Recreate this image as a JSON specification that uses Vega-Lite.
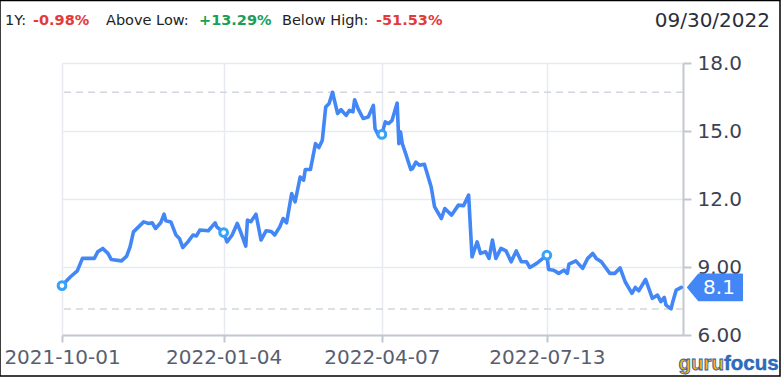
{
  "$schema": "https://vega.github.io/schema/vega-lite/v6.json",
  "autosize": "none",
  "width": 621,
  "height": 272,
  "padding": {"left": 62, "top": 63, "right": 99, "bottom": 49},
  "background": "#ffffff",
  "config": {"view": {"stroke": null}, "font": "DejaVu Sans"},
  "datasets": {
    "prices": [
      {"date": "2021-10-01", "price": 8.18}, {"date": "2021-10-06", "price": 8.57}, {"date": "2021-10-10", "price": 8.83},
      {"date": "2021-10-13", "price": 9.38}, {"date": "2021-10-20", "price": 9.38}, {"date": "2021-10-22", "price": 9.67},
      {"date": "2021-10-25", "price": 9.82}, {"date": "2021-10-28", "price": 9.60}, {"date": "2021-10-30", "price": 9.33},
      {"date": "2021-11-05", "price": 9.27}, {"date": "2021-11-08", "price": 9.48}, {"date": "2021-11-10", "price": 9.89},
      {"date": "2021-11-12", "price": 10.55}, {"date": "2021-11-18", "price": 10.99}, {"date": "2021-11-21", "price": 10.92},
      {"date": "2021-11-23", "price": 10.95}, {"date": "2021-11-25", "price": 10.70}, {"date": "2021-11-28", "price": 10.95},
      {"date": "2021-11-30", "price": 11.33}, {"date": "2021-12-01", "price": 11.04}, {"date": "2021-12-04", "price": 10.99},
      {"date": "2021-12-07", "price": 10.41}, {"date": "2021-12-09", "price": 10.26}, {"date": "2021-12-11", "price": 9.86},
      {"date": "2021-12-14", "price": 10.11}, {"date": "2021-12-17", "price": 10.41}, {"date": "2021-12-19", "price": 10.37},
      {"date": "2021-12-21", "price": 10.63}, {"date": "2021-12-26", "price": 10.60}, {"date": "2021-12-30", "price": 10.95},
      {"date": "2021-12-31", "price": 10.77}, {"date": "2022-01-04", "price": 10.52}, {"date": "2022-01-06", "price": 10.11},
      {"date": "2022-01-09", "price": 10.41}, {"date": "2022-01-12", "price": 10.92}, {"date": "2022-01-14", "price": 10.55},
      {"date": "2022-01-17", "price": 9.92}, {"date": "2022-01-18", "price": 11.07}, {"date": "2022-01-20", "price": 11.00},
      {"date": "2022-01-23", "price": 11.33}, {"date": "2022-01-26", "price": 10.19}, {"date": "2022-01-29", "price": 10.60},
      {"date": "2022-02-01", "price": 10.57}, {"date": "2022-02-03", "price": 10.41}, {"date": "2022-02-06", "price": 10.77},
      {"date": "2022-02-08", "price": 11.14}, {"date": "2022-02-10", "price": 10.95}, {"date": "2022-02-13", "price": 12.24},
      {"date": "2022-02-15", "price": 11.87}, {"date": "2022-02-18", "price": 12.97}, {"date": "2022-02-20", "price": 12.83},
      {"date": "2022-02-21", "price": 13.30}, {"date": "2022-02-24", "price": 13.30}, {"date": "2022-02-27", "price": 14.44},
      {"date": "2022-03-01", "price": 14.27}, {"date": "2022-03-03", "price": 14.59}, {"date": "2022-03-05", "price": 16.06},
      {"date": "2022-03-07", "price": 16.21}, {"date": "2022-03-09", "price": 16.71}, {"date": "2022-03-12", "price": 15.77},
      {"date": "2022-03-14", "price": 15.94}, {"date": "2022-03-17", "price": 15.69}, {"date": "2022-03-19", "price": 15.91},
      {"date": "2022-03-21", "price": 15.85}, {"date": "2022-03-22", "price": 16.38}, {"date": "2022-03-24", "price": 15.99},
      {"date": "2022-03-27", "price": 15.55}, {"date": "2022-03-30", "price": 15.62}, {"date": "2022-04-02", "price": 16.13},
      {"date": "2022-04-03", "price": 15.10}, {"date": "2022-04-05", "price": 14.81}, {"date": "2022-04-07", "price": 14.85},
      {"date": "2022-04-09", "price": 15.40}, {"date": "2022-04-11", "price": 15.33}, {"date": "2022-04-13", "price": 15.47},
      {"date": "2022-04-16", "price": 16.23}, {"date": "2022-04-17", "price": 14.44}, {"date": "2022-04-18", "price": 14.96},
      {"date": "2022-04-19", "price": 14.44}, {"date": "2022-04-21", "price": 14.00}, {"date": "2022-04-24", "price": 13.30},
      {"date": "2022-04-25", "price": 13.34}, {"date": "2022-04-27", "price": 13.63}, {"date": "2022-04-29", "price": 13.49},
      {"date": "2022-05-02", "price": 13.53}, {"date": "2022-05-06", "price": 12.53}, {"date": "2022-05-08", "price": 11.65},
      {"date": "2022-05-12", "price": 11.14}, {"date": "2022-05-14", "price": 11.58}, {"date": "2022-05-18", "price": 11.29},
      {"date": "2022-05-22", "price": 11.73}, {"date": "2022-05-25", "price": 11.70}, {"date": "2022-05-28", "price": 12.17},
      {"date": "2022-05-30", "price": 9.45}, {"date": "2022-06-02", "price": 10.11}, {"date": "2022-06-04", "price": 9.60},
      {"date": "2022-06-07", "price": 9.67}, {"date": "2022-06-09", "price": 9.38}, {"date": "2022-06-11", "price": 10.19},
      {"date": "2022-06-13", "price": 9.38}, {"date": "2022-06-16", "price": 9.82}, {"date": "2022-06-19", "price": 9.71},
      {"date": "2022-06-22", "price": 9.23}, {"date": "2022-06-25", "price": 9.71}, {"date": "2022-06-28", "price": 9.23},
      {"date": "2022-07-01", "price": 9.23}, {"date": "2022-07-03", "price": 8.98}, {"date": "2022-07-07", "price": 9.16},
      {"date": "2022-07-13", "price": 9.52}, {"date": "2022-07-14", "price": 8.89}, {"date": "2022-07-17", "price": 8.86},
      {"date": "2022-07-20", "price": 8.72}, {"date": "2022-07-23", "price": 8.86}, {"date": "2022-07-25", "price": 8.72},
      {"date": "2022-07-26", "price": 9.13}, {"date": "2022-07-30", "price": 9.27}, {"date": "2022-08-03", "price": 8.94},
      {"date": "2022-08-06", "price": 9.38}, {"date": "2022-08-09", "price": 9.60}, {"date": "2022-08-11", "price": 9.38},
      {"date": "2022-08-14", "price": 9.23}, {"date": "2022-08-19", "price": 8.72}, {"date": "2022-08-22", "price": 8.72},
      {"date": "2022-08-25", "price": 8.96}, {"date": "2022-08-28", "price": 8.35}, {"date": "2022-09-01", "price": 7.84},
      {"date": "2022-09-03", "price": 8.10}, {"date": "2022-09-05", "price": 7.95}, {"date": "2022-09-09", "price": 8.45},
      {"date": "2022-09-13", "price": 7.62}, {"date": "2022-09-16", "price": 7.76}, {"date": "2022-09-18", "price": 7.47},
      {"date": "2022-09-20", "price": 7.66}, {"date": "2022-09-21", "price": 7.32}, {"date": "2022-09-24", "price": 7.15},
      {"date": "2022-09-25", "price": 7.47}, {"date": "2022-09-27", "price": 7.98}, {"date": "2022-09-30", "price": 8.10}
    ],
    "markers": [
      {"date": "2021-10-01", "price": 8.18}, {"date": "2022-01-04", "price": 10.52},
      {"date": "2022-04-07", "price": 14.85}, {"date": "2022-07-13", "price": 9.52}
    ],
    "levels": [{"kind": "High", "level": 16.71}, {"kind": "Low", "level": 7.15}],
    "last": [{"date": "2022-09-30", "price": 8.1}]
  },
  "layer": [
    {
      "data": {"name": "levels"},
      "mark": {"type": "rule", "color": "#d2d7de", "strokeWidth": 1.5, "strokeDash": [7, 5]},
      "encoding": {"y": {"field": "level", "type": "quantitative"}}
    },
    {
      "data": {"name": "prices"},
      "mark": {"type": "line", "color": "#4287f5", "strokeWidth": 3.6, "strokeJoin": "round", "strokeCap": "round"},
      "encoding": {
        "x": {"field": "date", "type": "temporal",
          "scale": {"type": "utc", "domain": [1633046400000, 1664582400000], "nice": false},
          "axis": {
            "orient": "bottom", "values": [1633046400000, 1641254400000, 1649289600000, 1657670400000],
            "labelExpr": "utcFormat(datum.value, '%Y-%m-%d')", "title": null,
            "labelFontSize": 20, "labelColor": "#585e70", "labelPadding": 5, "labelFlush": false,
            "grid": true, "gridColor": "#e7eaef", "gridWidth": 1.5,
            "domainColor": "#c3c7d0", "domainWidth": 2, "tickColor": "#c3c7d0", "tickWidth": 2, "tickSize": 7
          }},
        "y": {"field": "price", "type": "quantitative",
          "scale": {"domain": [6, 18], "nice": false, "zero": false},
          "axis": {
            "orient": "right", "values": [6, 9, 12, 15, 18], "format": ".3r", "title": null,
            "labelFontSize": 20, "labelColor": "#3c4254", "labelPadding": 6,
            "grid": true, "gridColor": "#e7eaef", "gridWidth": 1.5,
            "domainColor": "#c3c7d0", "domainWidth": 2, "tickColor": "#c3c7d0", "tickWidth": 2, "tickSize": 8
          }}
      }
    },
    {
      "data": {"name": "markers"},
      "mark": {"type": "point", "filled": true, "fill": "#ffffff", "stroke": "#37a2f6", "strokeWidth": 3, "size": 60, "opacity": 1},
      "encoding": {
        "x": {"field": "date", "type": "temporal"},
        "y": {"field": "price", "type": "quantitative"}
      }
    },
    {
      "data": {"name": "last"},
      "mark": {"type": "point", "shape": "M-1,0 L-0.6,-0.48 L1,-0.48 L1,0.48 L-0.6,0.48 Z", "size": 2916, "filled": true,
        "fill": "#4287f5", "stroke": "#4287f5", "strokeWidth": 2, "strokeJoin": "round", "opacity": 1, "clip": false},
      "encoding": {
        "x": {"datum": 1666207443677, "type": "temporal"},
        "y": {"field": "price", "type": "quantitative"}
      }
    },
    {
      "data": {"name": "last"},
      "mark": {"type": "text", "color": "#ffffff", "fontSize": 20, "align": "center", "baseline": "middle", "dy": 1},
      "encoding": {
        "x": {"datum": 1666410574113, "type": "temporal"},
        "y": {"field": "price", "type": "quantitative"},
        "text": {"field": "price", "type": "quantitative", "format": ".1f"}
      }
    },
    {
      "data": {"values": [{}]},
      "mark": {"type": "rect", "fill": null, "stroke": "#000000", "strokeWidth": 1.5, "clip": false},
      "encoding": {
        "x": {"datum": 1629897878242, "type": "temporal"},
        "x2": {"datum": 1669508313262},
        "y": {"datum": 20.757, "type": "quantitative"},
        "y2": {"datum": 4.191}
      }
    },
    {
      "data": {"values": [{}]},
      "mark": {"type": "text", "text": "1Y:", "align": "left", "baseline": "middle", "fontSize": 14.5, "color": "#222222"},
      "encoding": {"x": {"datum": 1630151791287, "type": "temporal"}, "y": {"datum": 19.84, "type": "quantitative"}}
    },
    {
      "data": {"values": [{}]},
      "mark": {"type": "text", "text": "-0.98%", "align": "left", "baseline": "middle", "fontSize": 14.5, "fontWeight": "bold", "color": "#e23b3b"},
      "encoding": {"x": {"datum": 1631573704339, "type": "temporal"}, "y": {"datum": 19.84, "type": "quantitative"}}
    },
    {
      "data": {"values": [{}]},
      "mark": {"type": "text", "text": "Above Low:", "align": "left", "baseline": "middle", "fontSize": 14.5, "color": "#222222"},
      "encoding": {"x": {"datum": 1635280834796, "type": "temporal"}, "y": {"datum": 19.84, "type": "quantitative"}}
    },
    {
      "data": {"values": [{}]},
      "mark": {"type": "text", "text": "+13.29%", "align": "left", "baseline": "middle", "fontSize": 14.5, "fontWeight": "bold", "color": "#1a9e5c"},
      "encoding": {"x": {"datum": 1640003617433, "type": "temporal"}, "y": {"datum": 19.84, "type": "quantitative"}}
    },
    {
      "data": {"values": [{}]},
      "mark": {"type": "text", "text": "Below High:", "align": "left", "baseline": "middle", "fontSize": 14.5, "color": "#222222"},
      "encoding": {"x": {"datum": 1644218573980, "type": "temporal"}, "y": {"datum": 19.84, "type": "quantitative"}}
    },
    {
      "data": {"values": [{}]},
      "mark": {"type": "text", "text": "-51.53%", "align": "left", "baseline": "middle", "fontSize": 14.5, "fontWeight": "bold", "color": "#e23b3b"},
      "encoding": {"x": {"datum": 1648992139226, "type": "temporal"}, "y": {"datum": 19.84, "type": "quantitative"}}
    },
    {
      "data": {"values": [{}]},
      "mark": {"type": "text", "text": "09/30/2022", "align": "right", "baseline": "middle", "fontSize": 20, "color": "#2a2e3a"},
      "encoding": {"x": {"datum": 1669000487172, "type": "temporal"}, "y": {"datum": 19.84, "type": "quantitative"}}
    },
    {
      "data": {"values": [{}]},
      "mark": {"type": "text", "text": "guru", "align": "right", "baseline": "alphabetic", "fontSize": 20.5, "fontWeight": "bold",
        "font": "Liberation Sans", "fill": "#f6b41a", "stroke": "#1d5cab", "strokeWidth": 0.8},
      "encoding": {"x": {"datum": 1666664487158, "type": "temporal"}, "y": {"datum": 4.456, "type": "quantitative"}}
    },
    {
      "data": {"values": [{}]},
      "mark": {"type": "text", "text": "focus", "align": "left", "baseline": "alphabetic", "fontSize": 20.5, "fontWeight": "bold",
        "font": "Liberation Sans", "fill": "#2d6cc0", "stroke": "#1d5cab", "strokeWidth": 0.4},
      "encoding": {"x": {"datum": 1666664487158, "type": "temporal"}, "y": {"datum": 4.456, "type": "quantitative"}}
    }
  ]
}
